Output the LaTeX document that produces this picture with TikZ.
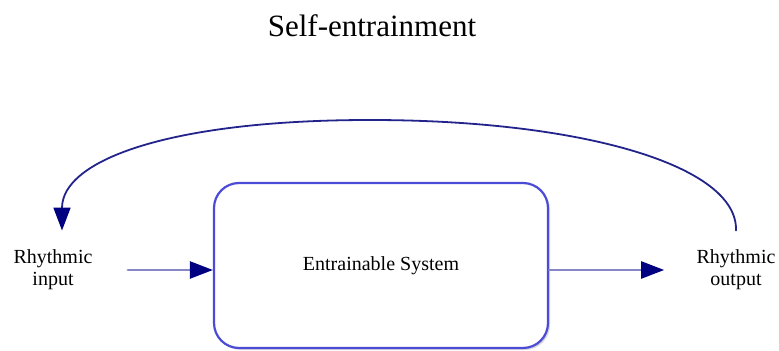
\documentclass[tikz,border=0pt]{standalone}
\usepackage{fontspec}
\setmainfont{Liberation Serif}
\newfontfamily\diagfont{Liberation Serif}
\usepackage{xcolor}
\usetikzlibrary{positioning,
                arrows.meta,
                shadows,
                calc}

\begin{document}
\begin{tikzpicture}
[x=0.5pt,y=-0.5pt,line cap=round,
label text/.style={align=center,inner sep=0pt,font=\diagfont\fontsize{10}{11}\selectfont},
system box/.style={draw=boxcolor,line width=1.1pt,rounded corners=12.5pt,fill=white,
  minimum width=167pt,minimum height=82.5pt,inner sep=0pt,font=\diagfont\fontsize{10}{11}\selectfont,
  drop shadow={shadow xshift=1pt,shadow yshift=-1pt,opacity=.3}},
flow/.style={draw=flowcolor,line width=1.2pt,-{Triangle[length=11.5pt,width=8.5pt,color=tipcolor]}},
feedback/.style={draw=loopcolor,line width=.9pt,-{Triangle[length=11.5pt,width=8.5pt,color=tipcolor]}}]
% Colors
\definecolor{boxcolor}{RGB}{75,75,215}
\definecolor{flowcolor}{RGB}{135,135,200}
\definecolor{loopcolor}{RGB}{35,35,140}
\definecolor{tipcolor}{RGB}{0,0,128}
\useasboundingbox (0,0) rectangle (779,351);
% The graphic
\node[anchor=base,inner sep=0pt,font=\diagfont\fontsize{15.5}{18}\selectfont] (title) at (372,37) {Self-entrainment};
\node[system box] (sys) at (381,265.5) {Entrainable System};
\node[label text] (in) at (53,270) {Rhythmic\\input};
\node[label text] (out) at (736,270) {Rhythmic\\output};
\draw[flow] ([xshift=17.5pt]in.east) -- (in.east -| sys.west);
\draw[flow,shorten >=16pt] (sys.east |- out.west) -- (out.west);
\draw[feedback] ([yshift=9.5pt]out.north) .. controls (738,165) and (580,120) .. (370,120)
  .. controls (170,120) and (62,160) .. ([yshift=9.5pt]in.north -| 62,0);
\end{tikzpicture}
\end{document}
